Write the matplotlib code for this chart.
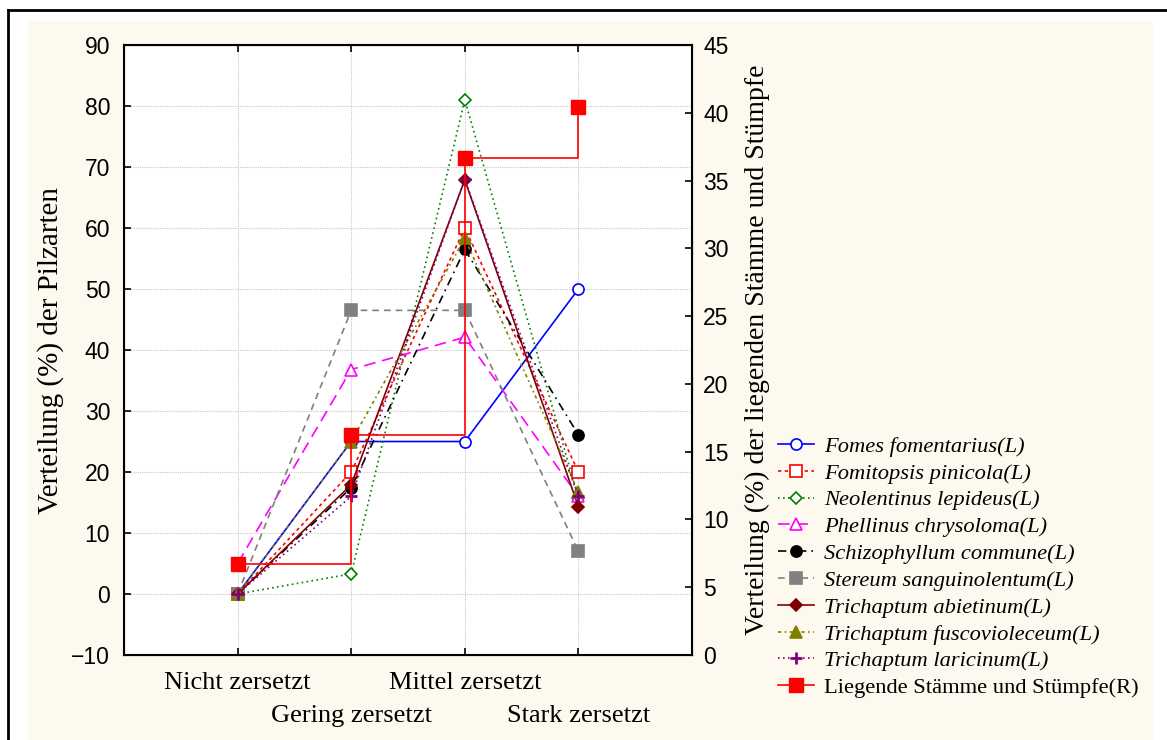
import matplotlib.pyplot as plt
from matplotlib.patches import Rectangle
from matplotlib.lines import Line2D

# Zersetzungsgrade und Verteilungen (%)
stages = ['Nicht zersetzt', 'Gering zersetzt', 'Mittel zersetzt', 'Stark zersetzt']
x = [1, 2, 3, 4]

fomes = [0, 25, 25, 50]
fomitopsis = [0, 20, 60, 20]
neolentinus = [0, 3.3, 81, 15.7]
phellinus = [5, 36.8, 42.1, 16]
schizophyllum = [0, 17.4, 56.5, 26.1]
stereum = [0, 46.5, 46.5, 7]
t_abietinum = [0, 17.9, 67.9, 14.3]
t_fusco = [0, 25, 58.3, 16.7]
t_laricinum = [0, 16, 68, 16]
liegende = [6.7, 16.2, 36.7, 40.4]

serif = 'Liberation Serif'
sans = 'Liberation Sans'
cream = '#fdf9ee'

fig = plt.figure(figsize=(11.67, 7.40), dpi=100)
fig.patch.set_facecolor('white')
fig.patches.append(Rectangle((28 / 1167, 0), (1153 - 28) / 1167, 1 - 21 / 740,
                             transform=fig.transFigure, facecolor=cream,
                             edgecolor='none', zorder=-2))
fig.add_artist(Line2D([8 / 1167, 8 / 1167], [0, 1 - 10 / 740], color='black', lw=2,
                      transform=fig.transFigure))
fig.add_artist(Line2D([8 / 1167, 1], [1 - 10 / 740, 1 - 10 / 740], color='black', lw=2,
                      transform=fig.transFigure))

ax = fig.add_axes([124 / 1167, 1 - 655 / 740, (692 - 124) / 1167, (655 - 45) / 740])
ax.set_facecolor('white')

series = [
    (fomes, 'Fomes fomentarius(L)', dict(color='#0000ff', ls='-', marker='o', mfc='white')),
    (fomitopsis, 'Fomitopsis pinicola(L)', dict(color='#ff0000', ls=(0, (2, 2)), marker='s', mfc='white')),
    (neolentinus, 'Neolentinus lepideus(L)', dict(color='#008000', ls=(0, (1, 2)), marker='D', mfc='white', ms=6.5)),
    (phellinus, 'Phellinus chrysoloma(L)', dict(color='#ff00ff', ls=(0, (7, 4)), marker='^', mfc='white')),
    (schizophyllum, 'Schizophyllum commune(L)', dict(color='black', ls=(0, (5, 3, 1, 3)), marker='o')),
    (stereum, 'Stereum sanguinolentum(L)', dict(color='#808080', ls=(0, (4, 3)), marker='s')),
    (t_abietinum, 'Trichaptum abietinum(L)', dict(color='#800000', ls='-', marker='D', ms=6.5)),
    (t_fusco, 'Trichaptum fuscovioleceum(L)', dict(color='#808000', ls=(0, (2, 2, 1, 2)), marker='^')),
    (t_laricinum, 'Trichaptum laricinum(L)', dict(color='#800080', ls=(0, (1, 2)), marker='+', ms=9, mew=2)),
]

handles = []
for vals, name, st in series:
    st.setdefault('ms', 8)
    st.setdefault('mew', 1.2)
    h, = ax.plot(x, vals, lw=1.2, label=name, **st)
    handles.append(h)

ax.set_xlim(0, 5)
ax.set_ylim(-10, 90)
ax.set_yticks(range(-10, 91, 10))
ax.set_xticks(x)
ax.set_xticklabels(stages, fontfamily=serif, fontsize=19)
for i, t in enumerate(ax.xaxis.get_major_ticks()):
    t.set_pad(12 if i % 2 == 0 else 36)
ax.grid(True, color='#c8c8c8', ls=(0, (1, 1)), lw=0.8)
ax.tick_params(axis='both', direction='in', length=5, width=1.2, top=True)
ax.tick_params(axis='y', labelsize=16.5, pad=10)
for lbl in ax.get_yticklabels():
    lbl.set_fontfamily(sans)
for s in ax.spines.values():
    s.set_linewidth(1.5)
ax.set_ylabel('Verteilung (%) der Pilzarten', fontfamily=serif, fontsize=21, labelpad=5)

ax2 = ax.twinx()
ax2.set_ylim(0, 45)
ax2.set_yticks(range(0, 46, 5))
ax2.tick_params(axis='y', direction='in', length=5, width=1.2, labelsize=16.5, pad=8)
for lbl in ax2.get_yticklabels():
    lbl.set_fontfamily(sans)
h2, = ax2.plot(x, liegende, color='#ff0000', lw=1.2, drawstyle='steps-post',
               marker='s', ms=9.5, label='Liegende Stämme und Stümpfe(R)')
handles.append(h2)
ax2.set_ylabel('Verteilung (%) der liegenden Stämme und Stümpfe', fontfamily=serif,
               fontsize=20, labelpad=12)

leg = fig.legend(handles=handles, loc='upper left', bbox_to_anchor=(778 / 1167, 1 - 436 / 740),
                 frameon=False, borderpad=0, borderaxespad=0, handlelength=1.6,
                 handletextpad=0.45, labelspacing=0.27,
                 prop={'family': serif, 'size': 16.2})
for i, t in enumerate(leg.get_texts()):
    if i < 9:
        t.set_fontstyle('italic')

fig.savefig('out.png', dpi=100)
